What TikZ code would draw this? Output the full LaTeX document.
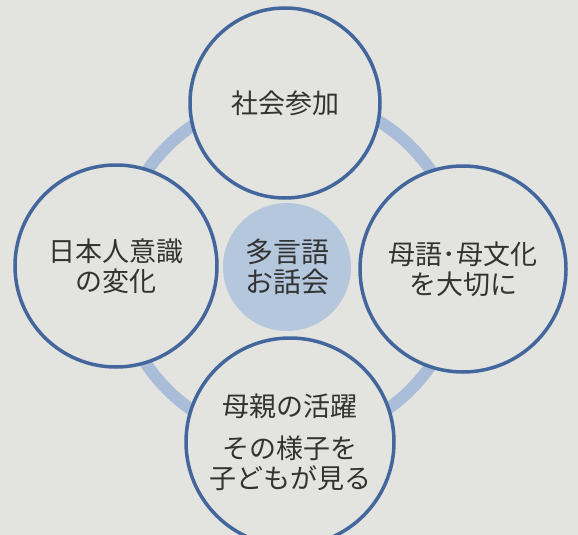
\documentclass[tikz,border=0pt]{standalone}
\usepackage{fontspec}
\setmainfont{Noto Sans CJK JP}
\definecolor{paper}{HTML}{E3E3DF}
\definecolor{circblue}{HTML}{43679C}
\definecolor{ringblue}{HTML}{A9BCD8}
\definecolor{hubblue}{HTML}{B5C7DD}
\definecolor{ink}{HTML}{333333}
\begin{document}
\begin{tikzpicture}[x=1pt,y=-1pt,
  bub/.style={circle, draw=circblue, line width=3.5pt, fill=paper, inner sep=0pt,
    align=center, text=ink, font=\fontsize{27}{30}\selectfont},
  hubnode/.style={circle, fill=hubblue, inner sep=0pt, align=center, text=ink,
    font=\fontsize{28}{30}\selectfont}]
\fill[paper] (0,0) rectangle (578,535);
\useasboundingbox (0,0) rectangle (578,535);
\coordinate (hub) at (289,268);
\draw[ringblue, line width=12pt] (hub) circle[radius=172];
\node[bub, minimum size=190pt] (top) at (285,103) {社会参加};
\node[bub, minimum size=202pt] (left) at (116,266) {日本人意識\\の変化};
\node[bub, minimum size=206pt] (right) at (463,269) {母語･母文化\\を大切に};
\node[bub, minimum size=208pt] (bottom) at (290,442) {母親の活躍\\[12pt]その様子を\\子どもが見る};
\node[hubnode, minimum size=128pt] (center) at (287,267) {多言語\\お話会};
\end{tikzpicture}
\end{document}
